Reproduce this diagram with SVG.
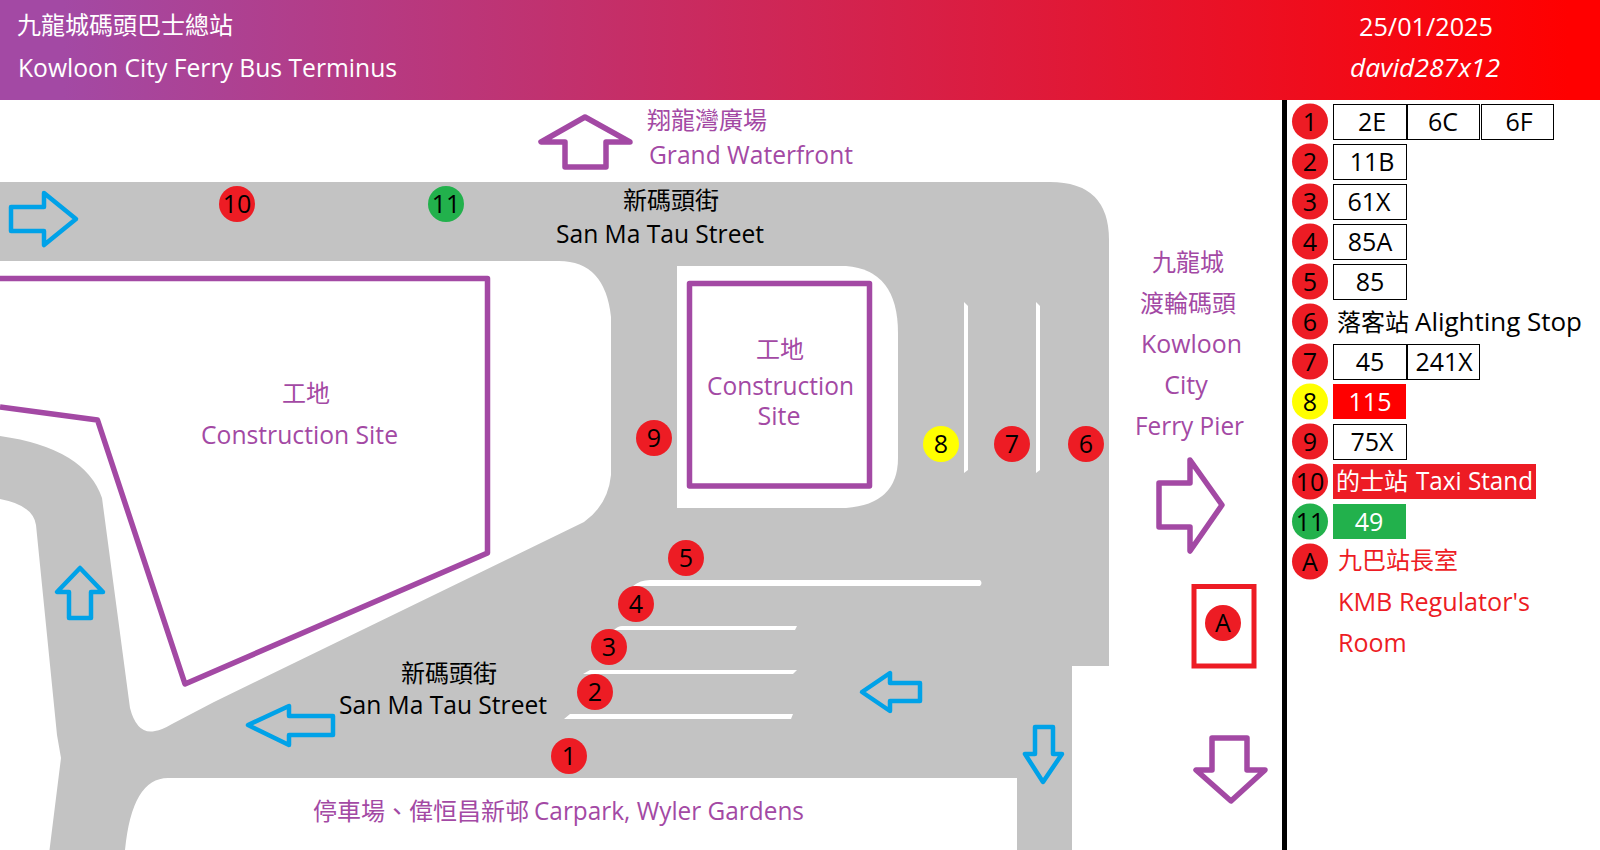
<svg xmlns="http://www.w3.org/2000/svg" width="1600" height="850" viewBox="0 0 1600 850">
<style>
text{font-family:"Open Sans","Noto Sans CJK TC",sans-serif;font-size:24px}
.l{font-size:25px;font-weight:500}
.p{fill:#A349A4}.k{fill:#000}.w{fill:#fff}.r{fill:#ED1C24}
.m{text-anchor:middle}
.pa{fill:none;stroke:#A349A4;stroke-width:5.5;stroke-linejoin:round}
.ba{fill:none;stroke:#00A2E8;stroke-width:4.5;stroke-linejoin:round}
.box{fill:#fff;stroke:#000;stroke-width:1}
.cr{fill:#ED1C24}.cy{fill:#FFFF00}.cg{fill:#22B14C}
.n{text-anchor:middle;fill:#000;font-size:25px;font-weight:500}
.wn{text-anchor:middle;font-size:25px;font-weight:500;fill:#fff}
</style>
<defs>
<linearGradient id="hd" x1="0" y1="0" x2="1" y2="0"><stop offset="0.04" stop-color="#A349A4"/><stop offset="0.98" stop-color="#FF0000"/></linearGradient>
</defs>
<rect width="1600" height="850" fill="#fff"/>
<g id="header">
<rect width="1600" height="100" fill="url(#hd)"/>
<text x="17" y="34" class="w">九龍城碼頭巴士總站</text>
<text x="18" y="77" class="w l" textLength="379" lengthAdjust="spacingAndGlyphs">Kowloon City Ferry Bus Terminus</text>
<text x="1359" y="36" class="w l" textLength="134" lengthAdjust="spacingAndGlyphs">25/01/2025</text>
<text x="1350" y="77" class="w l" font-style="italic" textLength="150" lengthAdjust="spacingAndGlyphs">david287x12</text>
</g>
<g id="roads">
<path fill="#C3C3C3" d="M0 182H1050Q1109 182 1109 240V666H1072V850H1017V778H168Q132 778 125 850H49.5L61 758L57 735L36 525Q33 505 0 499V436Q85 448 102 498L130 708Q137 735 155 731Q162 730 172 724L214 702L584 522Q608 505 611 475V317Q605 261 559 261H0Z"/>
<path fill="#fff" d="M677 266H846Q898 270 898 333V458Q898 504 846 508H677Z"/>
<path fill="#fff" d="M964 302L968 306V470L964 473ZM1036 302L1040 306V470L1036 473ZM633 586Q640 580 650 580H980Q983 583 980 586ZM614 630Q618 626 622 626H797L795 630ZM583 674L590 670H797L793 674ZM564 719L570 714H793L791 719Z"/>
</g>
<g id="sites">
<path class="pa" stroke-linejoin="miter" d="M0 278.5H487.500V553L185 684L97.500 420L0 407"/>
<rect class="pa" x="689.500" y="283.500" width="180" height="202.500"/>
<rect x="1194" y="586.500" width="60" height="79.500" fill="none" stroke="#ED1C24" stroke-width="5"/>
</g>
<g id="arrows">
<path class="pa" d="M585 117L541 142H565V167H606V142H630Z"/>
<path class="pa" d="M1159 483H1190V460L1222 505L1190 551V527H1159Z"/>
<path class="pa" d="M1212 738H1247V770H1265L1231 801L1196 770H1212Z"/>
<path class="ba" d="M11 207H44V193L76 219L44 245V231H11Z"/>
<path class="ba" d="M80 568L57 592H69V618H91V592H103Z"/>
<path class="ba" d="M248 725L289 706V716H333V735H289V745Z"/>
<path class="ba" d="M862 692L890 673V683H920V701H890V711Z"/>
<path class="ba" d="M1035 727H1053V754H1062L1043 782L1025 754H1035Z"/>
</g>
<g id="labels">
<text x="647" y="129" class="p">翔龍灣廣場</text>
<text x="649" y="164" class="p l" textLength="204" lengthAdjust="spacingAndGlyphs">Grand Waterfront</text>
<text x="671" y="209" class="k m">新碼頭街</text>
<text x="556" y="243" class="k l" textLength="208" lengthAdjust="spacingAndGlyphs">San Ma Tau Street</text>
<text x="306" y="402" class="p m">工地</text>
<text x="201" y="444" class="p l" textLength="197" lengthAdjust="spacingAndGlyphs">Construction Site</text>
<text x="780" y="358" class="p m">工地</text>
<text x="707" y="395" class="p l" textLength="147" lengthAdjust="spacingAndGlyphs">Construction</text>
<text x="779" y="425" class="p l m">Site</text>
<text x="1188" y="271" class="p m">九龍城</text>
<text x="1188" y="312" class="p m">渡輪碼頭</text>
<text x="1141" y="353" class="p l" textLength="101" lengthAdjust="spacingAndGlyphs">Kowloon</text>
<text x="1186" y="394" class="p l m">City</text>
<text x="1135" y="435" class="p l" textLength="109" lengthAdjust="spacingAndGlyphs">Ferry Pier</text>
<text x="449" y="682" class="k m">新碼頭街</text>
<text x="339" y="714" class="k l" textLength="208" lengthAdjust="spacingAndGlyphs">San Ma Tau Street</text>
<text x="313" y="820" class="p">停車場、偉恒昌新邨 <tspan x="534" class="l" textLength="270" lengthAdjust="spacingAndGlyphs">Carpark, Wyler Gardens</tspan></text>
</g>
<g id="stops">
<g id="stop-10"><circle cx="237" cy="204" r="18" class="cr"/><text x="237" y="213" class="n">10</text></g>
<g id="stop-11"><circle cx="446" cy="204" r="18" class="cg"/><text x="446" y="213" class="n">11</text></g>
<g id="stop-9"><circle cx="654" cy="438" r="18" class="cr"/><text x="654" y="447" class="n">9</text></g>
<g id="stop-8"><circle cx="941" cy="444" r="18" class="cy"/><text x="941" y="453" class="n">8</text></g>
<g id="stop-7"><circle cx="1012" cy="444" r="18" class="cr"/><text x="1012" y="453" class="n">7</text></g>
<g id="stop-6"><circle cx="1086" cy="444" r="18" class="cr"/><text x="1086" y="453" class="n">6</text></g>
<g id="stop-5"><circle cx="686" cy="558" r="18" class="cr"/><text x="686" y="567" class="n">5</text></g>
<g id="stop-4"><circle cx="636" cy="604" r="18" class="cr"/><text x="636" y="613" class="n">4</text></g>
<g id="stop-3"><circle cx="609" cy="647" r="18" class="cr"/><text x="609" y="656" class="n">3</text></g>
<g id="stop-2"><circle cx="595" cy="692" r="18" class="cr"/><text x="595" y="701" class="n">2</text></g>
<g id="stop-1"><circle cx="569" cy="756" r="18" class="cr"/><text x="569" y="765" class="n">1</text></g>
<g id="stop-A"><circle cx="1223" cy="623" r="18" class="cr"/><text x="1223" y="632" class="n">A</text></g>
</g>
<g id="legend">
<rect x="1282" y="100" width="5" height="750" fill="#000"/>
<g id="leg-1"><circle cx="1310" cy="121.500" r="18" class="cr"/><text x="1310" y="130.500" class="n">1</text>
<rect class="box" x="1333.500" y="104.500" width="73" height="35"/><rect class="box" x="1407.500" y="104.500" width="72" height="35"/><rect class="box" x="1481.500" y="104.500" width="72" height="35"/>
<text x="1372" y="131" class="n">2E</text><text x="1443" y="131" class="n">6C</text><text x="1519" y="131" class="n">6F</text></g>
<g id="leg-2"><circle cx="1310" cy="161.500" r="18" class="cr"/><text x="1310" y="170.500" class="n">2</text><rect class="box" x="1333.500" y="144.500" width="73" height="35"/><text x="1372" y="171" class="n">11B</text></g>
<g id="leg-3"><circle cx="1310" cy="201.500" r="18" class="cr"/><text x="1310" y="210.500" class="n">3</text><rect class="box" x="1333.500" y="184.500" width="73" height="35"/><text x="1369" y="211" class="n">61X</text></g>
<g id="leg-4"><circle cx="1310" cy="241.500" r="18" class="cr"/><text x="1310" y="250.500" class="n">4</text><rect class="box" x="1333.500" y="224.500" width="73" height="35"/><text x="1370" y="251" class="n">85A</text></g>
<g id="leg-5"><circle cx="1310" cy="281.500" r="18" class="cr"/><text x="1310" y="290.500" class="n">5</text><rect class="box" x="1333.500" y="264.500" width="73" height="35"/><text x="1370" y="290.500" class="n">85</text></g>
<g id="leg-6"><circle cx="1310" cy="321.500" r="18" class="cr"/><text x="1310" y="330.500" class="n">6</text><text x="1337" y="331" class="k">落客站 <tspan x="1415" class="l" textLength="167" lengthAdjust="spacingAndGlyphs">Alighting Stop</tspan></text></g>
<g id="leg-7"><circle cx="1310" cy="361.500" r="18" class="cr"/><text x="1310" y="370.500" class="n">7</text><rect class="box" x="1333.500" y="344.500" width="73" height="35"/><rect class="box" x="1407.500" y="344.500" width="72" height="35"/><text x="1370" y="370.500" class="n">45</text><text x="1444" y="370.500" class="n" textLength="57" lengthAdjust="spacingAndGlyphs">241X</text></g>
<g id="leg-8"><circle cx="1310" cy="401.500" r="18" class="cy"/><text x="1310" y="410.500" class="n">8</text><rect x="1333" y="384" width="73" height="35" fill="#FF0000"/><text x="1370" y="410.500" class="wn">115</text></g>
<g id="leg-9"><circle cx="1310" cy="441.500" r="18" class="cr"/><text x="1310" y="450.500" class="n">9</text><rect class="box" x="1333.500" y="424.500" width="73" height="35"/><text x="1372" y="450.500" class="n">75X</text></g>
<g id="leg-10"><circle cx="1310" cy="481.500" r="18" class="cr"/><text x="1310" y="490.500" class="n">10</text><rect x="1333" y="464" width="203" height="35" fill="#ED1C24"/><text x="1336" y="490" class="w">的士站 <tspan x="1416" class="l" textLength="117" lengthAdjust="spacingAndGlyphs">Taxi Stand</tspan></text></g>
<g id="leg-11"><circle cx="1310" cy="521.500" r="18" class="cg"/><text x="1310" y="530.500" class="n">11</text><rect x="1333" y="504" width="73" height="35" fill="#22B14C"/><text x="1369" y="530.500" class="wn">49</text></g>
<g id="leg-A"><circle cx="1310" cy="561.500" r="18" class="cr"/><text x="1310" y="570.500" class="n">A</text>
<text x="1338" y="569" class="r">九巴站長室</text><text x="1338" y="611" class="r l" textLength="192" lengthAdjust="spacingAndGlyphs">KMB Regulator's</text><text x="1338" y="652" class="r l">Room</text></g>
</g>
</svg>
